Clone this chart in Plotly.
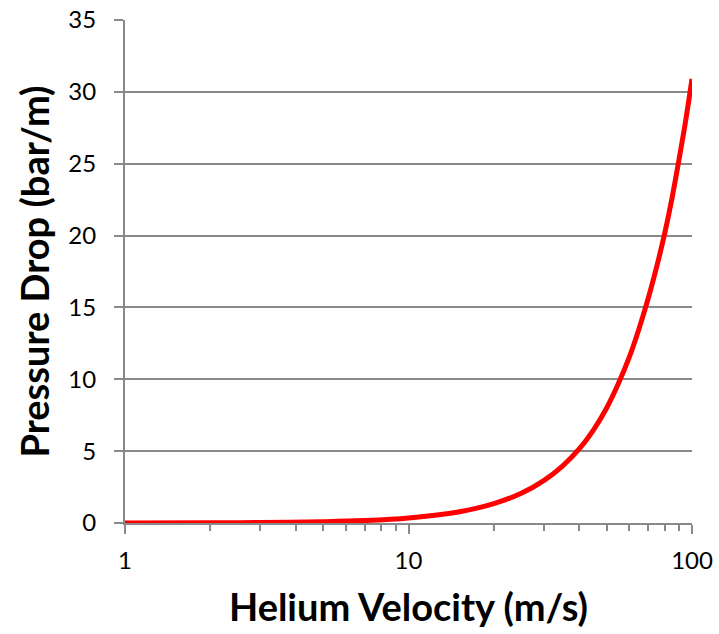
import plotly.graph_objects as go

velocity = [1, 2, 3, 5, 7, 10, 15, 20, 25, 30, 35, 40, 45, 50, 55, 60, 65, 70, 75, 80, 85, 90, 95, 100]
pressure_drop = [0.004, 0.015, 0.033, 0.09, 0.17, 0.35, 0.77, 1.35, 2.07, 2.95, 3.98, 5.15, 6.5, 8.0,
                 9.7, 11.5, 13.5, 15.6, 17.8, 20.1, 22.6, 25.3, 28.0, 30.9]
x_tickvals = [1, 10, 100]
x_ticktext = ["1", "10", "100"]
y_tickvals = [0, 5, 10, 15, 20, 25, 30, 35]

GRAY = "#898989"
FONT = "Lato"

fig = go.Figure()
fig.add_trace(go.Scatter(x=velocity, y=pressure_drop, mode="lines",
                         line=dict(color="#ff0000", width=5, shape="spline"),
                         showlegend=False, hoverinfo="skip", cliponaxis=False))

fig.update_layout(
    width=719, height=634,
    margin=dict(l=125, r=27, t=20, b=111),
    paper_bgcolor="white", plot_bgcolor="white",
    font=dict(family=FONT, color="black"),
)
fig.update_xaxes(
    type="log", range=[0, 2], automargin=False,
    tickvals=x_tickvals, ticktext=x_ticktext,
    tickfont=dict(size=24, family=FONT),
    ticks="outside", ticklen=9, tickwidth=2, tickcolor=GRAY,
    ticklabelstandoff=6, ticklabeloverflow="allow",
    showline=True, linecolor=GRAY, linewidth=2,
    showgrid=False, zeroline=False,
    minor=dict(ticks="outside", ticklen=6, tickwidth=2, tickcolor=GRAY, dtick="D1", showgrid=False),
    title=dict(text="Helium Velocity (m/s)", font=dict(size=38, family=FONT, weight="bold"), standoff=22),
)
fig.update_yaxes(
    range=[0, 35], tickvals=y_tickvals, automargin=False,
    tickfont=dict(size=24, family=FONT),
    ticks="outside", ticklen=9, tickwidth=2, tickcolor=GRAY,
    ticklabelstandoff=13, ticklabeloverflow="allow",
    showline=True, linecolor=GRAY, linewidth=2,
    showgrid=True, gridcolor=GRAY, gridwidth=1.5, zeroline=False,
    title=dict(text="Pressure Drop (bar/m)", font=dict(size=38, family=FONT, weight="bold"), standoff=7),
)

fig.write_html("out.html", config={"displayModeBar": False},
               post_script="document.body.style.margin='0';document.body.style.overflow='hidden';")
